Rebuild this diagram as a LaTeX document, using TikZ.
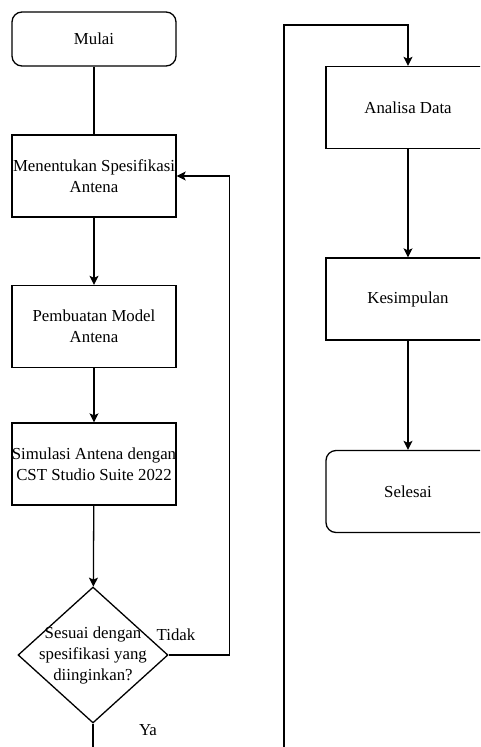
\documentclass[tikz,border=0pt]{standalone}
\usepackage{fontspec}
\setmainfont{Liberation Serif}
\usetikzlibrary{shapes.geometric,arrows.meta}
\begin{document}
\begin{tikzpicture} [
  x=1pt, y=-1pt,
  every node/.style={font=\fontsize{16.8}{21}\selectfont, align=center},
  proses/.style={draw, line width=1.3pt, minimum width=164pt, minimum height=82pt, inner sep=0pt},
  terminal/.style={proses, rounded corners=10pt},
  keputusan/.style={draw, line width=1.3pt, diamond, aspect=1.1,
    minimum width=150pt, minimum height=136pt, inner sep=-8pt},
  garis/.style={line width=1.3pt},
  alur/.style={garis, -{Stealth[length=9pt, width=9pt, inset=2pt]}}]
\useasboundingbox[fill=white] (0,0) rectangle (480,747);
\clip (0,0) rectangle (480,747);
% kolom kiri
\node[terminal, minimum height=54pt] (mulai) at (94,39) {Mulai};
\node[proses] (menentukan) at (94,176) {Menentukan Spesifikasi\\Antena};
\node[proses] (pembuatan) at (94,326.5) {Pembuatan Model\\Antena};
\node[proses] (simulasi) at (94,464) {Simulasi Antena dengan\\CST Studio Suite 2022};
\node[keputusan] (cek) at (93,655) {Sesuai dengan\\spesifikasi yang\\diinginkan?};
\node (tidak) at (176,635) {Tidak};
\node (ya) at (148,730) {Ya};
\coordinate (bawahkiri) at (93,760);
% kolom kanan
\node[proses] (analisa) at (408,107.5) {Analisa Data};
\node[proses] (kesimpulan) at (408,299) {Kesimpulan};
\node[terminal] (selesai) at (408,491.5) {Selesai};
\coordinate (bawahkanan) at (284,760);
\coordinate (ataskanan) at (284,25);
% alur
\draw[garis] (mulai) -- (menentukan);
\draw[alur] (menentukan) -- (pembuatan);
\draw[alur] (pembuatan) -- (simulasi);
\draw[alur] (simulasi) -- (cek);
\draw[alur] (cek.east) -- ++(61,0) |- (menentukan);
\draw[garis] (cek) -- (bawahkiri);
\draw[alur] (bawahkanan) -- (ataskanan) -| (analisa);
\draw[alur] (analisa) -- (kesimpulan);
\draw[alur] (kesimpulan) -- (selesai);
\end{tikzpicture}
\end{document}
